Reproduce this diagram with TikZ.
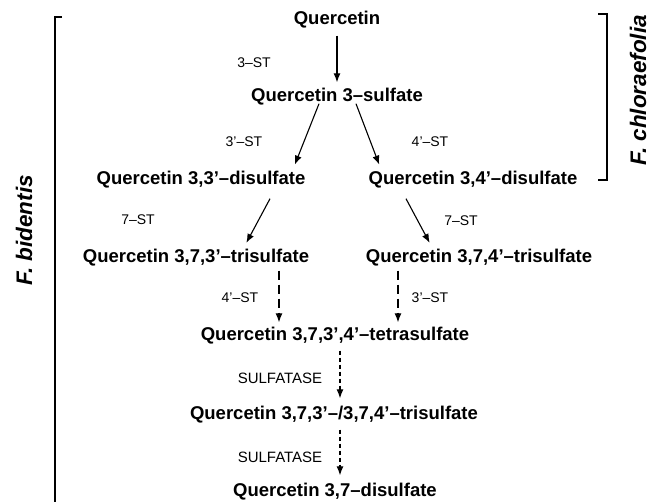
\documentclass[tikz,border=0pt]{standalone}
\usepackage{fontspec}
\setmainfont{Liberation Sans}
\usetikzlibrary{arrows.meta}

\begin{document}
\begin{tikzpicture}[
  x=1pt, y=-1pt,
  cpd/.style={font=\fontsize{18.5}{21}\selectfont\bfseries, inner sep=2pt},
  enz/.style={font=\fontsize{14}{16}\selectfont, inner sep=1pt},
  taxon/.style={font=\fontsize{22.5}{26}\selectfont\bfseries\itshape, rotate=90},
  flow/.style={-{Latex[length=9pt,width=7pt]}, line width=1.1pt},
  dflow/.style={flow, dash pattern=on 9pt off 5pt},
  sflow/.style={flow, dash pattern=on 4pt off 3pt},
  bracket/.style={line width=1.6pt}
]
\useasboundingbox (0,0) rectangle (651,502);

% compounds
\node[cpd] (q0) at (337,20) {Quercetin};
\node[cpd] (q3) at (337,97) {Quercetin 3--sulfate};
\node[cpd] (qd33) at (201,180) {Quercetin 3,3'--disulfate};
\node[cpd] (qd34) at (473,180) {Quercetin 3,4'--disulfate};
\node[cpd] (qt733) at (196,258) {Quercetin 3,7,3'--trisulfate};
\node[cpd] (qt734) at (479,258) {Quercetin 3,7,4'--trisulfate};
\node[cpd] (qtet) at (335,336) {Quercetin 3,7,3',4'--tetrasulfate};
\node[cpd] (qmix) at (334,415) {Quercetin 3,7,3'--/3,7,4'--trisulfate};
\node[cpd] (qd37) at (335,492) {Quercetin 3,7--disulfate};

% enzymes
\node[enz] (st3) at (254,63) {3--ST};
\node[enz] (st3p) at (244,142) {3'--ST};
\node[enz] (st4p) at (430,142) {4'--ST};
\node[enz] (st7a) at (138,220) {7--ST};
\node[enz] (st7b) at (461,221) {7--ST};
\node[enz] (st4pb) at (240,298) {4'--ST};
\node[enz] (st3pb) at (430,298) {3'--ST};
\node[enz, font=\fontsize{15}{17}\selectfont] (sulfa) at (280,378) {SULFATASE};
\node[enz, font=\fontsize{15}{17}\selectfont] (sulfb) at (280,457) {SULFATASE};

% species
\node[taxon] (bid) at (24,230) {F. bidentis};
\node[taxon] (chl) at (638,90) {F. chloraefolia};

\draw[bracket] (62,17) -- (55,17) -- (55,502);
\draw[bracket] (598,14) -- (607,14) -- (607,180) -- (598,180);

% sulfation steps
\draw[flow, shorten <=5pt, shorten >=4pt] (q0.south) -- (q0.south |- q3.north);
\draw[flow, shorten >=5pt] ([xshift=-18pt,yshift=4pt]q3.south) -- ([xshift=92pt]qd33.north);
\draw[flow, shorten >=5pt] ([xshift=19pt,yshift=4pt]q3.south) -- ([xshift=-92pt]qd34.north);
\draw[flow, shorten >=5pt] ([xshift=69pt,yshift=-8pt]qd33.south) -- ([xshift=48pt]qt733.north);
\draw[flow, shorten >=5pt] ([xshift=-67pt,yshift=-8pt]qd34.south) -- ([xshift=-47pt]qt734.north);
\draw[dflow, shorten <=2pt, shorten >=3pt] ([xshift=83pt]qt733.south) -- ([xshift=-56pt]qtet.north);
\draw[dflow, shorten <=2pt, shorten >=3pt] ([xshift=-81pt]qt734.south) -- ([xshift=63pt]qtet.north);
\draw[sflow, shorten <=4pt, shorten >=6pt] ([xshift=5pt]qtet.south) -- ([xshift=6pt]qmix.north);
\draw[sflow, shorten <=4pt, shorten >=6pt] ([xshift=6pt]qmix.south) -- ([xshift=5pt]qd37.north);
\end{tikzpicture}
\end{document}
